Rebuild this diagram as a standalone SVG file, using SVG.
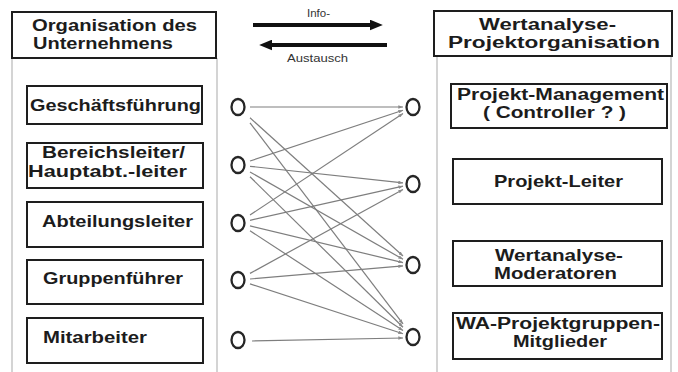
<svg xmlns="http://www.w3.org/2000/svg" width="678" height="372" viewBox="0 0 678 372">
  <style>
    .panel { fill: none; stroke: #b8b8b8; stroke-width: 1.2; }
    .box { fill: #ffffff; stroke: #1e1e1e; stroke-width: 2; }
    .lbl { font-family: "Liberation Sans", Arial, Helvetica, sans-serif; font-weight: bold; font-size: 17px; fill: #1c1c1c; }
    .two { font-size: 16px; }
    .small { font-family: "Liberation Sans", Arial, Helvetica, sans-serif; font-size: 11px; fill: #333; }
    .dot { fill: #ffffff; stroke: #262626; stroke-width: 2.3; }
    .link { stroke: #7e7e7e; stroke-width: 1.2; fill: none; marker-end: url(#tip); }
    .flow { stroke: #111; stroke-width: 4; fill: none; }
  </style>
  <defs>
    <marker id="tip" viewBox="0 0 8 6" refX="8" refY="3" markerWidth="5" markerHeight="3.5" markerUnits="userSpaceOnUse" orient="auto">
      <path d="M0,0 L8,3 L0,6 z" fill="#8a8a8a"/>
    </marker>
    <marker id="bigtip" viewBox="0 0 12 10" refX="2" refY="5" markerWidth="13" markerHeight="11" markerUnits="userSpaceOnUse" orient="auto">
      <path d="M0,0 L12,5 L0,10 z" fill="#111"/>
    </marker>
  </defs>
  <rect width="678" height="372" fill="#ffffff"/>

  <!-- side panels -->
  <g id="panels">
    <path class="panel" d="M12,58 V372 M217,58 V372"/>
    <path class="panel" d="M437,56 V372 M671,56 V372"/>
  </g>

  <!-- left column: company organisation -->
  <g id="org-header">
    <rect class="box" x="12" y="12" width="204" height="46"/>
    <text class="lbl two" x="32" y="31" textLength="165" lengthAdjust="spacingAndGlyphs">Organisation des</text>
    <text class="lbl two" x="33" y="49" textLength="140" lengthAdjust="spacingAndGlyphs">Unternehmens</text>
  </g>
  <g id="geschaeftsfuehrung">
    <rect class="box" x="27" y="86" width="175" height="38"/>
    <text class="lbl" x="30" y="111" textLength="171" lengthAdjust="spacingAndGlyphs">Geschäftsführung</text>
  </g>
  <g id="bereichsleiter">
    <rect class="box" x="27" y="143" width="176" height="45"/>
    <text class="lbl two" x="42" y="158" textLength="143" lengthAdjust="spacingAndGlyphs">Bereichsleiter/</text>
    <text class="lbl two" x="28" y="177" textLength="159" lengthAdjust="spacingAndGlyphs">Hauptabt.-leiter</text>
  </g>
  <g id="abteilungsleiter">
    <rect class="box" x="27" y="202" width="176" height="45"/>
    <text class="lbl" x="42" y="227" textLength="151" lengthAdjust="spacingAndGlyphs">Abteilungsleiter</text>
  </g>
  <g id="gruppenfuehrer">
    <rect class="box" x="27" y="260" width="176" height="44"/>
    <text class="lbl" x="43" y="284" textLength="140" lengthAdjust="spacingAndGlyphs">Gruppenführer</text>
  </g>
  <g id="mitarbeiter">
    <rect class="box" x="27" y="318" width="176" height="45"/>
    <text class="lbl" x="43" y="343" textLength="104" lengthAdjust="spacingAndGlyphs">Mitarbeiter</text>
  </g>

  <!-- right column: value analysis project organisation -->
  <g id="wa-header">
    <rect class="box" x="434" y="11" width="238" height="45"/>
    <text class="lbl two" x="479" y="30" textLength="137" lengthAdjust="spacingAndGlyphs">Wertanalyse-</text>
    <text class="lbl two" x="448" y="48" textLength="212" lengthAdjust="spacingAndGlyphs">Projektorganisation</text>
  </g>
  <g id="projekt-management">
    <rect class="box" x="451" y="84" width="216" height="44"/>
    <text class="lbl two" x="457" y="100" textLength="207" lengthAdjust="spacingAndGlyphs">Projekt-Management</text>
    <text class="lbl two" x="483" y="118" textLength="143" lengthAdjust="spacingAndGlyphs">( Controller ? )</text>
  </g>
  <g id="projekt-leiter">
    <rect class="box" x="453" y="159" width="209" height="45"/>
    <text class="lbl" x="494" y="187" textLength="129" lengthAdjust="spacingAndGlyphs">Projekt-Leiter</text>
  </g>
  <g id="moderatoren">
    <rect class="box" x="453" y="241" width="209" height="45"/>
    <text class="lbl two" x="495" y="261" textLength="128" lengthAdjust="spacingAndGlyphs">Wertanalyse-</text>
    <text class="lbl two" x="494" y="279" textLength="123" lengthAdjust="spacingAndGlyphs">Moderatoren</text>
  </g>
  <g id="projektgruppen">
    <rect class="box" x="453" y="313" width="209" height="46"/>
    <text class="lbl two" x="456" y="329" textLength="204" lengthAdjust="spacingAndGlyphs">WA-Projektgruppen-</text>
    <text class="lbl two" x="513" y="347" textLength="94" lengthAdjust="spacingAndGlyphs">Mitglieder</text>
  </g>

  <!-- information exchange arrows -->
  <g id="info-exchange">
    <line class="flow" x1="253" y1="25" x2="372" y2="25" marker-end="url(#bigtip)"/>
    <line class="flow" x1="387" y1="45" x2="270" y2="45" marker-end="url(#bigtip)"/>
    <text class="small" x="307" y="17" textLength="23" lengthAdjust="spacingAndGlyphs">Info-</text>
    <text class="small" x="287" y="62" textLength="61" lengthAdjust="spacingAndGlyphs">Austausch</text>
  </g>

  <!-- contact points -->
  <g id="left-points">
    <ellipse class="dot" cx="238" cy="107" rx="6.5" ry="8"/>
    <ellipse class="dot" cx="238" cy="165" rx="6.5" ry="8"/>
    <ellipse class="dot" cx="238" cy="223" rx="6.5" ry="8"/>
    <ellipse class="dot" cx="238" cy="280" rx="6.5" ry="8"/>
    <ellipse class="dot" cx="238" cy="340" rx="6.5" ry="8"/>
  </g>
  <g id="right-points">
    <ellipse class="dot" cx="413" cy="107" rx="6.5" ry="8"/>
    <ellipse class="dot" cx="413" cy="184" rx="6.5" ry="8"/>
    <ellipse class="dot" cx="413" cy="265" rx="6.5" ry="8"/>
    <ellipse class="dot" cx="413" cy="337" rx="6.5" ry="8"/>
  </g>

  <!-- connectors -->
  <g id="connectors">
    <line class="link" x1="250" y1="107" x2="403" y2="107"/>
    <line class="link" x1="250" y1="117.8" x2="403" y2="256"/>
    <line class="link" x1="250" y1="122.8" x2="403" y2="323.9"/>
    <line class="link" x1="250" y1="161" x2="403" y2="110.3"/>
    <line class="link" x1="250" y1="166.3" x2="403" y2="182.9"/>
    <line class="link" x1="250" y1="171.9" x2="403" y2="259.3"/>
    <line class="link" x1="250" y1="176.8" x2="403" y2="327.2"/>
    <line class="link" x1="250" y1="215" x2="403" y2="113.6"/>
    <line class="link" x1="250" y1="220.3" x2="403" y2="186.2"/>
    <line class="link" x1="250" y1="225.9" x2="403" y2="262.6"/>
    <line class="link" x1="250" y1="230.8" x2="403" y2="330.5"/>
    <line class="link" x1="250" y1="273.4" x2="403" y2="189.5"/>
    <line class="link" x1="250" y1="279" x2="403" y2="265.9"/>
    <line class="link" x1="250" y1="283.9" x2="403" y2="333.7"/>
    <line class="link" x1="252" y1="341" x2="403" y2="338"/>
  </g>
</svg>
